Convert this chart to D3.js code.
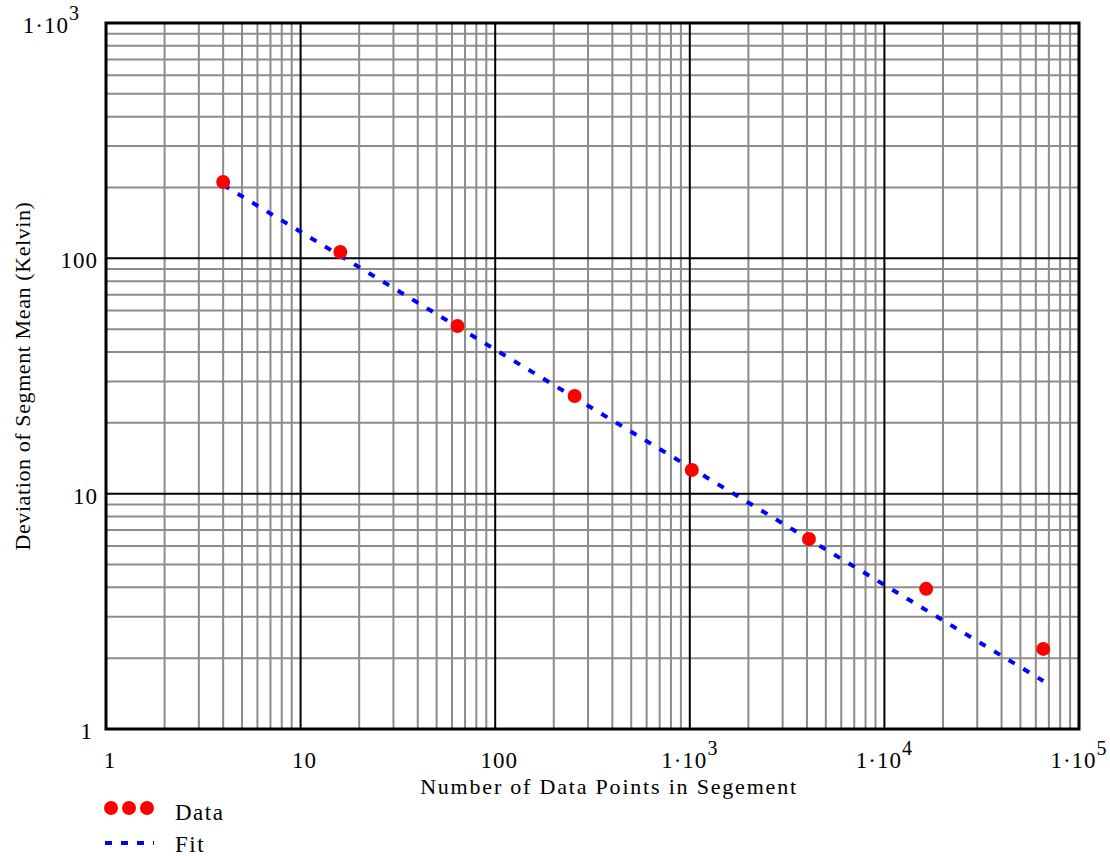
<!DOCTYPE html>
<html>
<head>
<meta charset="utf-8">
<script src="https://cdn.jsdelivr.net/npm/d3@7.9.0/dist/d3.min.js"></script>
<style>
  body { margin: 0; background: #fff; }
  svg { display: block; font-family: "Liberation Serif", "Times New Roman", serif; }
</style>
</head>
<body>
<svg id="chart" width="1110" height="856"></svg>
<script>
// segment sizes and the measured deviation of the segment means
const segmentSizes = [4, 16, 64, 256, 1024, 4096, 16384, 65536];
const deviation = [211, 106.5, 51.6, 26.0, 12.6, 6.42, 3.94, 2.19];

const fitValues = [205, 102.5, 51.2, 25.6, 12.8, 6.4, 3.2, 1.6];

// tick labels: [mantissa text, superscript]
const xTicks = [1, 10, 100, 1e3, 1e4, 1e5];
const xTickLabels = [["1", ""], ["10", ""], ["100", ""], ["1·10", "3"], ["1·10", "4"], ["1·10", "5"]];
const yTicks = [1, 10, 100, 1e3];
const yTickLabels = [["1", ""], ["10", ""], ["100", ""], ["1·10", "3"]];

const svg = d3.select('#chart');
const plotLeft = 106, plotRight = 1079, plotTop = 23, plotBottom = 729;

let x = d3.scaleLog().domain([1, 1e5]).range([plotLeft, plotRight]);
let y = d3.scaleLog().domain([1, 1e3]).range([plotBottom, plotTop]);

// minor grid first, then decades on top
let minorX = [], minorY = [];
for (let d = 1; d < 1e5; d *= 10) for (let k = 2; k <= 9; k++) minorX.push(d * k);
for (let d = 1; d < 1e3; d *= 10) for (let k = 2; k <= 9; k++) minorY.push(d * k);

let grid = svg.append('g');
grid.selectAll('.mx').data(minorX).join('line')
    .attr('x1', d => x(d)).attr('x2', d => x(d))
    .attr('y1', plotTop).attr('y2', plotBottom)
    .attr('stroke', '#8c8c8c').attr('stroke-width', 2);
grid.selectAll('.my').data(minorY).join('line')
    .attr('y1', d => y(d)).attr('y2', d => y(d))
    .attr('x1', plotLeft).attr('x2', plotRight)
    .attr('stroke', '#8c8c8c').attr('stroke-width', 2);
grid.selectAll('.Mx').data(xTicks.slice(1, -1)).join('line')
    .attr('x1', d => x(d)).attr('x2', d => x(d))
    .attr('y1', plotTop).attr('y2', plotBottom)
    .attr('stroke', '#000').attr('stroke-width', 2);
grid.selectAll('.My').data(yTicks.slice(1, -1)).join('line')
    .attr('y1', d => y(d)).attr('y2', d => y(d))
    .attr('x1', plotLeft).attr('x2', plotRight)
    .attr('stroke', '#000').attr('stroke-width', 2);

svg.append('rect')
    .attr('x', plotLeft).attr('y', plotTop)
    .attr('width', plotRight - plotLeft).attr('height', plotBottom - plotTop)
    .attr('fill', 'none').attr('stroke', '#000').attr('stroke-width', 3);

// fit line
let line = d3.line().x((d, i) => x(segmentSizes[i])).y(d => y(d));
svg.append('path')
    .attr('d', line(fitValues))
    .attr('fill', 'none')
    .attr('stroke', '#0000ff')
    .attr('stroke-width', 4)
    .attr('stroke-dasharray', '7,10');

// data points
svg.selectAll('.pt').data(deviation).join('circle')
    .attr('cx', (d, i) => x(segmentSizes[i]))
    .attr('cy', d => y(d))
    .attr('r', 7)
    .attr('fill', '#ff0000');

function labelText(sel, lab) {
    sel.append('tspan').text(lab[0]);
    if (lab[1]) {
        sel.append('tspan').attr('dy', -13).attr('font-size', 20).text(lab[1]);
    }
}

// x tick labels
xTicks.forEach((t, i) => {
    let txt = svg.append('text')
        .attr('x', x(t) + (xTickLabels[i][1] ? 0 : 4))
        .attr('y', 768)
        .attr('font-size', 23)
        .attr('letter-spacing', 1)
        .attr('text-anchor', 'middle');
    labelText(txt, xTickLabels[i]);
});

// y tick labels
const yLabelRight = [93, 98, 98, 80];
yTicks.forEach((t, i) => {
    let txt = svg.append('text')
        .attr('x', yLabelRight[i])
        .attr('y', y(t) + 10)
        .attr('font-size', 23)
        .attr('letter-spacing', 1)
        .attr('text-anchor', 'end');
    labelText(txt, yTickLabels[i]);
});

// axis titles
svg.append('text')
    .attr('x', 609).attr('y', 794)
    .attr('font-size', 22)
    .attr('letter-spacing', 1.8)
    .attr('text-anchor', 'middle')
    .text('Number of Data Points in Segement');

svg.append('text')
    .attr('transform', `translate(30, ${(plotTop + plotBottom) / 2}) rotate(-90)`)
    .attr('font-size', 22)
    .attr('letter-spacing', 0.6)
    .attr('text-anchor', 'middle')
    .text('Deviation of Segment Mean (Kelvin)');

// legend
let legend = svg.append('g');
legend.selectAll('circle').data([111, 129, 147]).join('circle')
    .attr('cx', d => d).attr('cy', 808).attr('r', 7).attr('fill', '#ff0000');
legend.append('text').attr('x', 175).attr('y', 820)
    .attr('font-size', 23).attr('letter-spacing', 1.5).text('Data');
legend.append('line')
    .attr('x1', 105).attr('x2', 154).attr('y1', 843).attr('y2', 843)
    .attr('stroke', '#0000ff').attr('stroke-width', 4).attr('stroke-dasharray', '7,9');
legend.append('text').attr('x', 175).attr('y', 852)
    .attr('font-size', 23).attr('letter-spacing', 1.5).text('Fit');
</script>
</body>
</html>
